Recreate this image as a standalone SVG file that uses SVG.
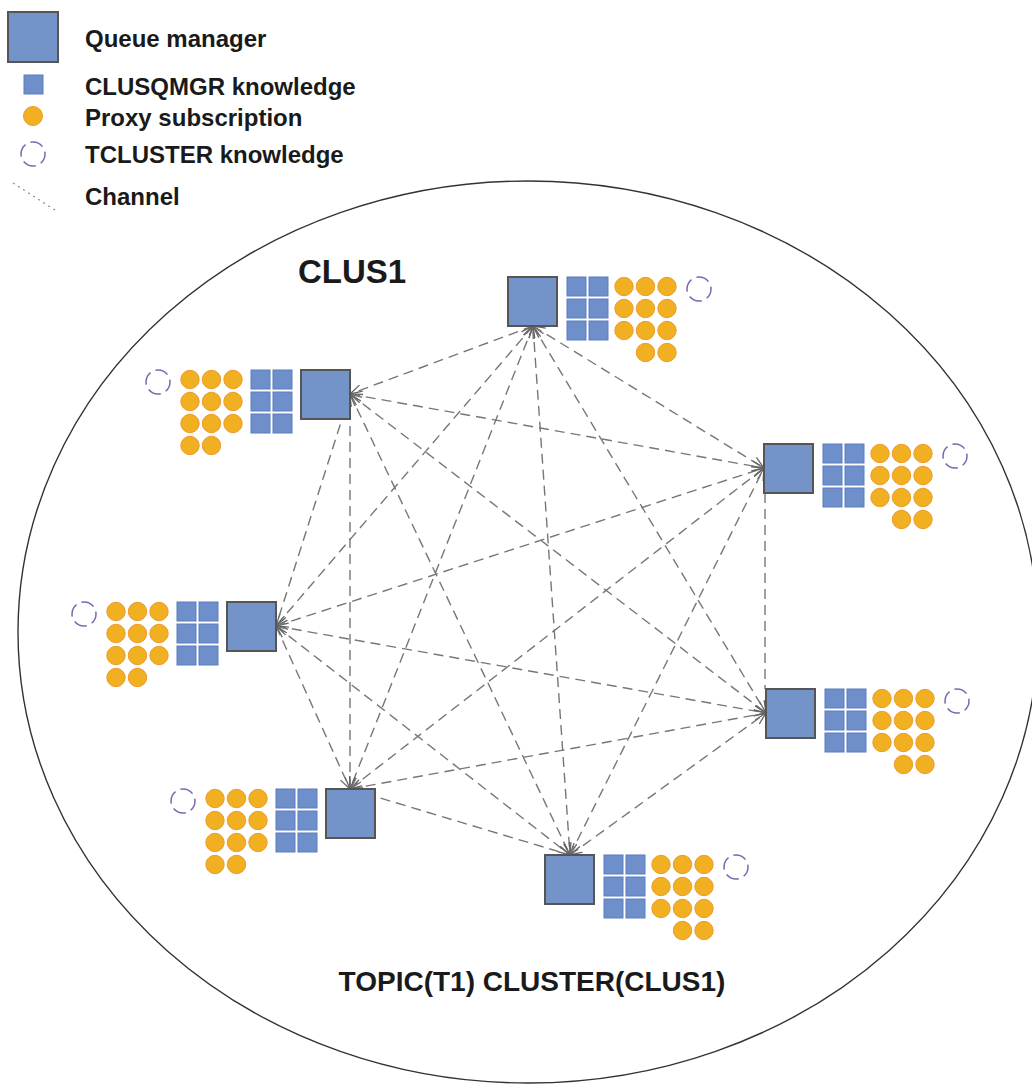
<svg xmlns="http://www.w3.org/2000/svg" xmlns:xlink="http://www.w3.org/1999/xlink" width="1032" height="1084" viewBox="0 0 1032 1084">
<style>
.qm{fill:#7393c9;stroke:#555;stroke-width:2}
.kn{fill:#6f8fcb;stroke:#5a7dc0;stroke-width:1}
.px{fill:#f0b022;stroke:#ee9a2a;stroke-width:1}
.tc{fill:none;stroke:#7a68b0;stroke-width:1.5;stroke-dasharray:13.5 5.35;stroke-dashoffset:3}
.lbl{font-family:"Liberation Sans",Arial,sans-serif;font-weight:bold;fill:#1a1a1a}
.ch{fill:none;stroke:#777;stroke-width:1.4;stroke-dasharray:10 6}
.ar{marker-start:url(#arr);marker-end:url(#arr)}
</style>
<defs>
<marker id="arr" viewBox="0 0 12 12" refX="12" refY="6" markerWidth="12" markerHeight="12" markerUnits="userSpaceOnUse" orient="auto-start-reverse">
<path d="M0,1 L12,6 L0,11" fill="none" stroke="#666" stroke-width="1.3"/>
</marker>
<g id="kR">
<rect class="kn" x="59" y="0" width="19" height="19"/><rect class="kn" x="81" y="0" width="19" height="19"/>
<rect class="kn" x="59" y="22" width="19" height="19"/><rect class="kn" x="81" y="22" width="19" height="19"/>
<rect class="kn" x="59" y="44" width="19" height="19"/><rect class="kn" x="81" y="44" width="19" height="19"/>
<circle class="px" cx="116" cy="9.5" r="9.2"/><circle class="px" cx="137.5" cy="9.5" r="9.2"/><circle class="px" cx="159" cy="9.5" r="9.2"/>
<circle class="px" cx="116" cy="31.5" r="9.2"/><circle class="px" cx="137.5" cy="31.5" r="9.2"/><circle class="px" cx="159" cy="31.5" r="9.2"/>
<circle class="px" cx="116" cy="53.5" r="9.2"/><circle class="px" cx="137.5" cy="53.5" r="9.2"/><circle class="px" cx="159" cy="53.5" r="9.2"/>
<circle class="px" cx="137.5" cy="75.5" r="9.2"/><circle class="px" cx="159" cy="75.5" r="9.2"/>
<circle class="tc" cx="191" cy="12" r="12"/>
</g>
<g id="kL">
<rect class="kn" x="-50" y="0" width="19" height="19"/><rect class="kn" x="-28" y="0" width="19" height="19"/>
<rect class="kn" x="-50" y="22" width="19" height="19"/><rect class="kn" x="-28" y="22" width="19" height="19"/>
<rect class="kn" x="-50" y="44" width="19" height="19"/><rect class="kn" x="-28" y="44" width="19" height="19"/>
<circle class="px" cx="-111" cy="9.5" r="9.2"/><circle class="px" cx="-89.5" cy="9.5" r="9.2"/><circle class="px" cx="-68" cy="9.5" r="9.2"/>
<circle class="px" cx="-111" cy="31.5" r="9.2"/><circle class="px" cx="-89.5" cy="31.5" r="9.2"/><circle class="px" cx="-68" cy="31.5" r="9.2"/>
<circle class="px" cx="-111" cy="53.5" r="9.2"/><circle class="px" cx="-89.5" cy="53.5" r="9.2"/><circle class="px" cx="-68" cy="53.5" r="9.2"/>
<circle class="px" cx="-111" cy="75.5" r="9.2"/><circle class="px" cx="-89.5" cy="75.5" r="9.2"/>
<circle class="tc" cx="-143" cy="12" r="12"/>
</g>
</defs>
<rect width="1032" height="1084" fill="#fff"/>

<g id="legend">
<rect class="qm" x="8" y="12" width="50" height="50"/>
<rect class="kn" x="24" y="75" width="19" height="19"/>
<circle class="px" cx="33" cy="116" r="9.5"/>
<circle class="tc" cx="33" cy="154" r="12"/>
<line x1="13" y1="183" x2="58" y2="212" stroke="#888" stroke-width="1.2" stroke-dasharray="2 4"/>
<text class="lbl" x="85" y="47" font-size="24">Queue manager</text>
<text class="lbl" x="85" y="95" font-size="24">CLUSQMGR knowledge</text>
<text class="lbl" x="85" y="126" font-size="24">Proxy subscription</text>
<text class="lbl" x="85" y="163" font-size="24">TCLUSTER knowledge</text>
<text class="lbl" x="85" y="205" font-size="24">Channel</text>
</g>

<g id="cluster">
<ellipse cx="528" cy="632" rx="510" ry="451" fill="none" stroke="#333" stroke-width="1.4"/>
<text class="lbl" x="298" y="283" font-size="33">CLUS1</text>
<text class="lbl" x="532" y="991" font-size="28" text-anchor="middle">TOPIC(T1) CLUSTER(CLUS1)</text>
</g>

<g id="connectors">
<line class="ch ar" x1="533" y1="326" x2="350" y2="394"/>
<line class="ch ar" x1="533" y1="326" x2="276" y2="626"/>
<line class="ch ar" x1="533" y1="326" x2="350" y2="789"/>
<line class="ch ar" x1="533" y1="326" x2="570" y2="855"/>
<line class="ch ar" x1="533" y1="326" x2="766" y2="713"/>
<line class="ch ar" x1="533" y1="326" x2="764" y2="468"/>
<line class="ch ar" x1="350" y1="394" x2="276" y2="626"/>
<line class="ch ar" x1="350" y1="394" x2="350" y2="789"/>
<line class="ch ar" x1="350" y1="394" x2="570" y2="855"/>
<line class="ch ar" x1="350" y1="394" x2="766" y2="713"/>
<line class="ch ar" x1="350" y1="394" x2="764" y2="468"/>
<line class="ch ar" x1="276" y1="626" x2="350" y2="789"/>
<line class="ch ar" x1="276" y1="626" x2="570" y2="855"/>
<line class="ch ar" x1="276" y1="626" x2="766" y2="713"/>
<line class="ch ar" x1="276" y1="626" x2="764" y2="468"/>
<line class="ch ar" x1="350" y1="789" x2="570" y2="855"/>
<line class="ch ar" x1="350" y1="789" x2="766" y2="713"/>
<line class="ch ar" x1="350" y1="789" x2="764" y2="468"/>
<line class="ch ar" x1="570" y1="855" x2="766" y2="713"/>
<line class="ch ar" x1="570" y1="855" x2="764" y2="468"/>
<line class="ch" x1="765" y1="493" x2="765" y2="689"/>
</g>

<g id="qm-top"><use xlink:href="#kR" href="#kR" x="508" y="277"/><rect class="qm" x="508" y="277" width="49" height="49"/></g>
<g id="qm-upper-left"><use xlink:href="#kL" href="#kL" x="301" y="370"/><rect class="qm" x="301" y="370" width="49" height="49"/></g>
<g id="qm-left"><use xlink:href="#kL" href="#kL" x="227" y="602"/><rect class="qm" x="227" y="602" width="49" height="49"/></g>
<g id="qm-lower-left"><use xlink:href="#kL" href="#kL" x="326" y="789"/><rect class="qm" x="326" y="789" width="49" height="49"/></g>
<g id="qm-bottom"><use xlink:href="#kR" href="#kR" x="545" y="855"/><rect class="qm" x="545" y="855" width="49" height="49"/></g>
<g id="qm-lower-right"><use xlink:href="#kR" href="#kR" x="766" y="689"/><rect class="qm" x="766" y="689" width="49" height="49"/></g>
<g id="qm-upper-right"><use xlink:href="#kR" href="#kR" x="764" y="444"/><rect class="qm" x="764" y="444" width="49" height="49"/></g>
</svg>
